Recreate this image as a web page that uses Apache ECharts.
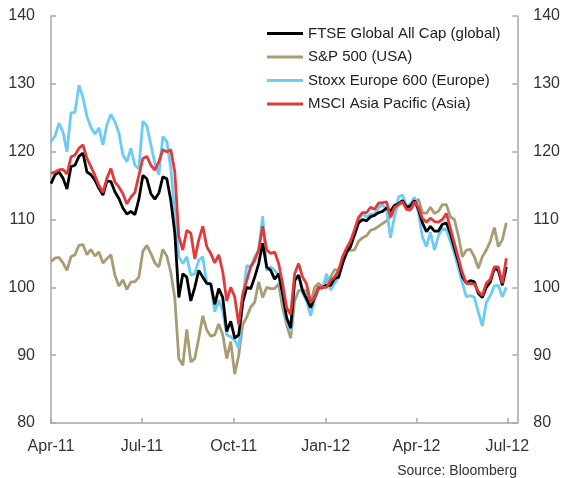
<!DOCTYPE html>
<html><head><meta charset="utf-8">
<script src="https://cdn.jsdelivr.net/npm/echarts@6/dist/echarts.min.js"></script>
<style>html,body{margin:0;padding:0;background:#fff}#c{width:563px;height:478px}</style>
</head><body><div id="c"></div>
<script>
// Days since 1 Apr 2011
const days = [0,4,8,12,16,20,24,28,32,36,40,44,48,52,56,60,64,68,72,76,80,84,88,92,96,100,104,108,112,116,120,124,128,132,136,140,144,148,152,156,160,164,168,172,176,180,184,188,192,196,200,204,208,212,216,220,224,228,232,236,240,244,248,252,256,260,264,268,272,276,280,284,288,292,296,300,304,308,312,316,320,324,328,332,336,340,344,348,352,356,360,364,368,372,376,380,384,388,392,396,400,404,408,412,416,420,424,428,432,436,440,444,448,452,456];

const ftseGlobal = [115.3,116.6,117,116.1,114.5,117.8,118,119.3,119.8,117,
116.6,115.8,114.6,113.6,115.7,115.6,114.1,113.1,111.7,110.8,
111.2,110.7,113,116.5,116,113.8,113,113.9,116.3,116,
112.8,108,98.5,102,101.5,98,100,102.5,101.5,100.6,
100.5,97.5,99.8,98.5,93.5,95,92.5,93,97.8,100,
99.8,101.5,103.5,106.5,103,102.5,101.2,102,99,95.5,
94,101,101.8,99.5,98.3,97,98.5,100,100,100.3,
100.3,101.3,101.5,103.5,105.2,106,107.8,109.5,110,109.8,
110.4,110.6,111,111.2,111.7,111.2,112.1,112.3,112.8,111.8,
112,112.8,111.5,109.5,108.2,109,108.3,108.3,109.3,109.5,
107.9,105.8,103.8,101.6,100.6,101,100.8,99.1,98.5,100,
100.8,102.8,102.5,100.3,103];

const sp500 = [103.8,104.3,104.4,103.6,102.5,104.5,104.8,106.2,106.3,104.8,
105.6,104.6,105.2,103.6,104.2,104.8,101.8,100.2,101.1,99.7,
100.8,100.8,101.5,105.3,106.2,105,103.6,103,105.6,104.6,
102.2,98.4,89.5,88.5,93.8,89,89.5,92.5,95.8,93.7,
92.8,93,94.6,93,89.5,92,87.2,90,94.5,95.6,
97.1,97.8,100.8,98.5,100,99.8,99.8,100.5,97,94.5,
92.5,98,99.5,99.6,99.5,97.6,100,100.6,100,101,
101.5,102.6,102.5,104,105.2,105.5,105.5,106.8,107.3,107.6,
108.4,108.6,109,109.4,109.8,110.4,111,112.2,112.5,112,
111.5,112.2,113,111,110.9,111.8,110.9,111.2,112.2,112.2,
110.4,110,107.6,104.5,105.5,105.6,104.5,102.8,104.5,105.5,
106.8,108.8,106,107,109.5];

const stoxx600 = [121.5,122.3,124.2,122.9,120,125.7,125.8,129.8,128,125.2,
123.6,122.6,123.5,121,124,125.5,124.4,122.8,119.5,118.5,
120.5,118,117.5,124.5,123.8,121,118.3,116.6,122.2,121.5,
117.5,111,104.5,103.5,104.5,101.8,102,104,104.5,100.5,
100.5,96.4,98.1,96.5,93,92.7,92.2,91,98,103.2,
103,104.5,105.5,110.5,102.5,103,102.5,101.8,98.5,95,
93.5,101.5,101.6,99.1,98,95.8,98.1,99.6,99.8,102,
99.6,100.6,101.5,103.8,104.8,107,107.5,109.8,111,110.3,
110.8,110.8,111.7,112.2,111.5,107.3,110.4,113.3,113.6,112,
112.3,113.3,111,107.4,106,108.1,105.5,107.6,108.7,108.5,
106.7,105,102.8,100.6,98.6,98.8,98.5,96.3,94.3,97.8,
98.8,100.2,100.3,98.6,100];

const msciAsia = [116.8,117,117.3,117.4,116.7,119.2,119.5,120.5,121,119,
117.8,116.5,115,114,116.1,117.5,115.5,114.8,113.8,112.3,
113.3,114,116.5,119,119.3,118,117.3,118.5,120.3,120,
120.3,117,107.5,105.5,108.4,108,104.2,107,109,106,
105,103.6,104.8,102.3,98,100,98.6,94.5,99,101,
103,104,105.5,109,105.5,105,105.2,103.5,100.5,97,
96,102,103.5,101.5,100.5,97.8,98.5,100,100,100,
101,101.5,102.5,104.5,105.8,106.8,108.5,110.3,111,111,
111.8,111.5,112.4,112.5,112.6,110.4,111.8,112.2,112.6,111.5,
111.4,112.6,111.8,110.2,109.6,110.2,109.7,109.6,110,110.9,
108.7,106.5,104.3,102.1,100.6,100.5,100.5,99.4,98.8,100.6,
101.2,103,103,100.6,104.3];

const tickDays = [0,91,183,275,366,457];
const tickLabels = ['Apr-11','Jul-11','Oct-11','Jan-12','Apr-12','Jul-12'];
const seriesNames = ['FTSE Global All Cap (global)','S&P 500 (USA)','Stoxx Europe 600 (Europe)','MSCI Asia Pacific (Asia)'];
const seriesColors = ['#000000','#a89c74','#6ccbf7','#e03a3a'];

const pair = arr => days.map((d, i) => [d, arr[i]]);
const FONT = "'Liberation Sans', Arial, sans-serif";
const axisGray = '#a6a6a6';

const yAxisBase = (pos) => ({
  type: 'value', min: 80, max: 140, interval: 10, position: pos,
  axisLine: {show: true, lineStyle: {color: axisGray, width: 1.5}},
  axisTick: {show: true, inside: true, length: 5, lineStyle: {color: axisGray, width: 1.5}},
  axisLabel: {fontSize: 16, color: '#333', margin: 16, fontFamily: FONT},
  splitLine: {show: false}
});

const chart = echarts.init(document.getElementById('c'), null, {renderer: 'canvas'});
const dataSets = [ftseGlobal, sp500, stoxx600, msciAsia];
const drawOrder = [1, 2, 0, 3];
chart.setOption({
  animation: false,
  backgroundColor: '#fff',
  textStyle: {fontFamily: FONT},
  grid: {left: 51, right: 45, top: 16, bottom: 55},
  xAxis: {
    type: 'value', min: 0, max: 467,
    axisLine: {lineStyle: {color: axisGray, width: 1.5}},
    axisTick: {show: true, inside: true, length: 5, customValues: tickDays, lineStyle: {color: axisGray, width: 1.5}},
    axisLabel: {customValues: tickDays, formatter: v => tickLabels[tickDays.indexOf(v)], fontSize: 16, color: '#333', margin: 16, fontFamily: FONT},
    splitLine: {show: false}
  },
  yAxis: [yAxisBase('left'), yAxisBase('right')],
  legend: {
    orient: 'vertical', left: 262, top: 21, itemWidth: 36, itemHeight: 3, itemGap: 8.5,
    icon: 'rect', data: seriesNames,
    textStyle: {fontSize: 15, color: '#222', fontFamily: FONT}
  },
  graphic: [{
    type: 'text', right: 46, top: 464,
    style: {text: 'Source: Bloomberg', font: "14px 'Liberation Sans', Arial, sans-serif", fill: '#333'}
  }],
  series: drawOrder.map(i => ({
    name: seriesNames[i], type: 'line', yAxisIndex: 0,
    data: pair(dataSets[i]), showSymbol: false, symbol: 'none',
    color: seriesColors[i],
    lineStyle: {color: seriesColors[i], width: 2.8}
  }))
});
</script></body></html>
